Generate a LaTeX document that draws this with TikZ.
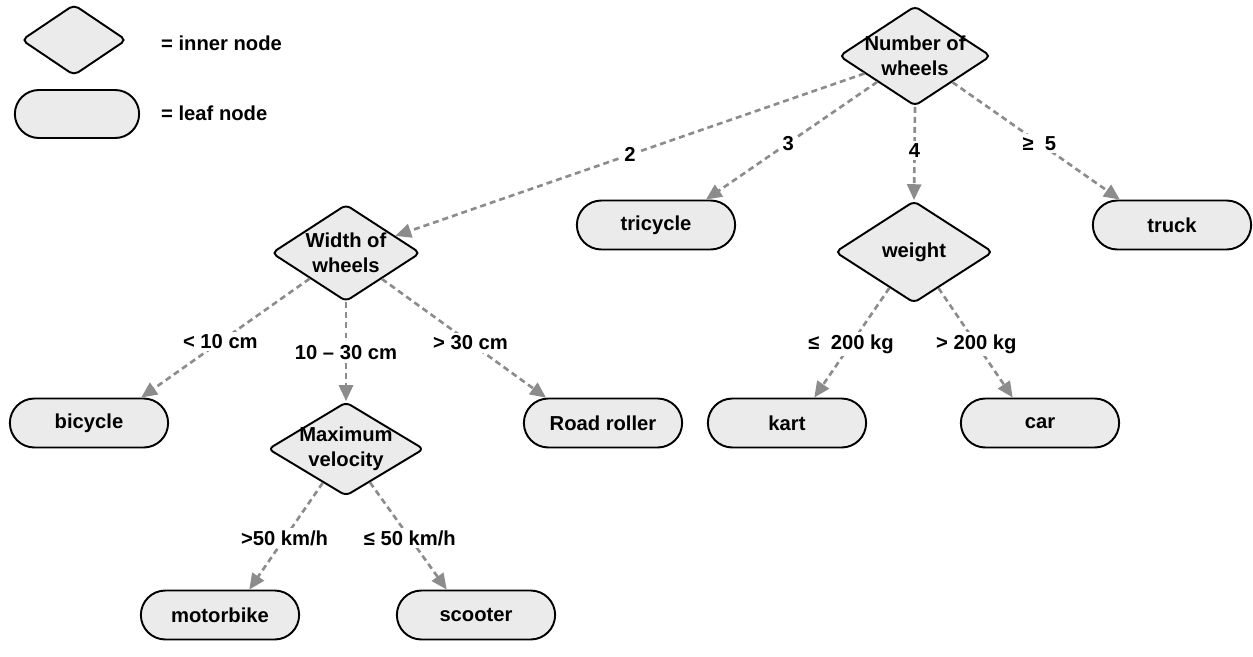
\documentclass[tikz,border=0pt]{standalone}
\usepackage{fontspec}
\setmainfont{Liberation Sans}
\usetikzlibrary{arrows.meta, shapes.geometric, shapes.misc}
\tikzset{
    % inner (decision) node, a rounded diamond
    innernode/.style={diamond, aspect=1.55, draw, line width=1.1pt, rounded corners=3pt,
        fill=black!8, inner sep=-4pt, align=center},
    % leaf node, a stadium-shaped box
    leafnode/.style={rounded rectangle, draw, line width=1.1pt, fill=black!8,
        minimum width=3.4cm, minimum height=0.98cm},
    % dashed grey branches
    branch/.style={draw=black!45, line width=1.5pt, dash pattern=on 3.4pt off 2.3pt,
        -{Triangle[length=9pt, width=8pt, fill=black!45]}},
    % branch conditions, on white so they cut the dashes
    cond/.style={fill=white, inner sep=1.5pt},
}

\begin{document}
\begin{tikzpicture}[x=0.02cm, y=-0.02cm, font=\bfseries\fontsize{11.5}{14}\selectfont]

    \useasboundingbox (0,0) rectangle (1253,656);

    % --- legend ---
    \node[innernode, minimum width=2.1cm, minimum height=1.42cm] (keyinner) at (74,40) {};
    \node[anchor=west] (keyinnertxt) at (155,43) {= inner node};
    \node[leafnode, minimum width=2.72cm, minimum height=0.96cm] (keyleaf) at (77,114) {};
    \node[anchor=west] (keyleaftxt) at (155,113) {= leaf node};

    % --- inner nodes ---
    \node[innernode, minimum width=3.04cm, minimum height=2.0cm] (nw) at (915,56) {Number of\\wheels};
    \node[innernode, minimum width=2.98cm, minimum height=1.94cm] (wow) at (346,253) {Width of\\wheels};
    \node[innernode, minimum width=3.16cm, minimum height=2.04cm] (weight) at (914,252) {weight};
    \node[innernode, minimum width=3.12cm, minimum height=1.88cm] (maxvel) at (346,449) {Maximum\\velocity};

    % --- leaves ---
    \node[leafnode] (tricycle) at (656,225) {tricycle};
    \node[leafnode] (truck) at (1172,225) {truck};
    \node[leafnode] (bicycle) at (89,423) {bicycle};
    \node[leafnode] (roller) at (603,423) {Road roller};
    \node[leafnode] (kart) at (787,423) {kart};
    \node[leafnode] (car) at (1040,423) {car};
    \node[leafnode] (motorbike) at (220,615) {motorbike};
    \node[leafnode] (scooter) at (476,615) {scooter};

    % number of wheels
    \draw[branch] (nw) -- (wow) node[cond, pos=0.5] {2};
    \draw[branch] (nw) -- (tricycle.27) node[cond, pos=0.52] {3};
    \draw[branch] (nw.south) -- (weight.north) node[cond, pos=0.47] {4};
    \draw[branch] (nw) -- (truck.154) node[cond, pos=0.52] {≥\ \ 5};

    % width of wheels
    \draw[branch] (wow) -- (bicycle.26) node[cond, pos=0.53] {< 10 cm};
    \draw[branch] (wow.south) -- (maxvel.north) node[cond, pos=0.51] {10 – 30 cm};
    \draw[branch] (wow) -- (roller.156) node[cond, pos=0.54] {> 30 cm};

    % weight
    \draw[branch] (weight) -- (kart.43) node[cond, pos=0.51] {≤\ \ 200 kg};
    \draw[branch] (weight) -- (car.137) node[cond, pos=0.51] {> 200 kg};

    % maximum velocity
    \draw[branch] (maxvel) -- (motorbike.41) node[cond, pos=0.52] {>50 km/h};
    \draw[branch] (maxvel) -- (scooter.139) node[cond, pos=0.52] {≤ 50 km/h};

\end{tikzpicture}
\end{document}
